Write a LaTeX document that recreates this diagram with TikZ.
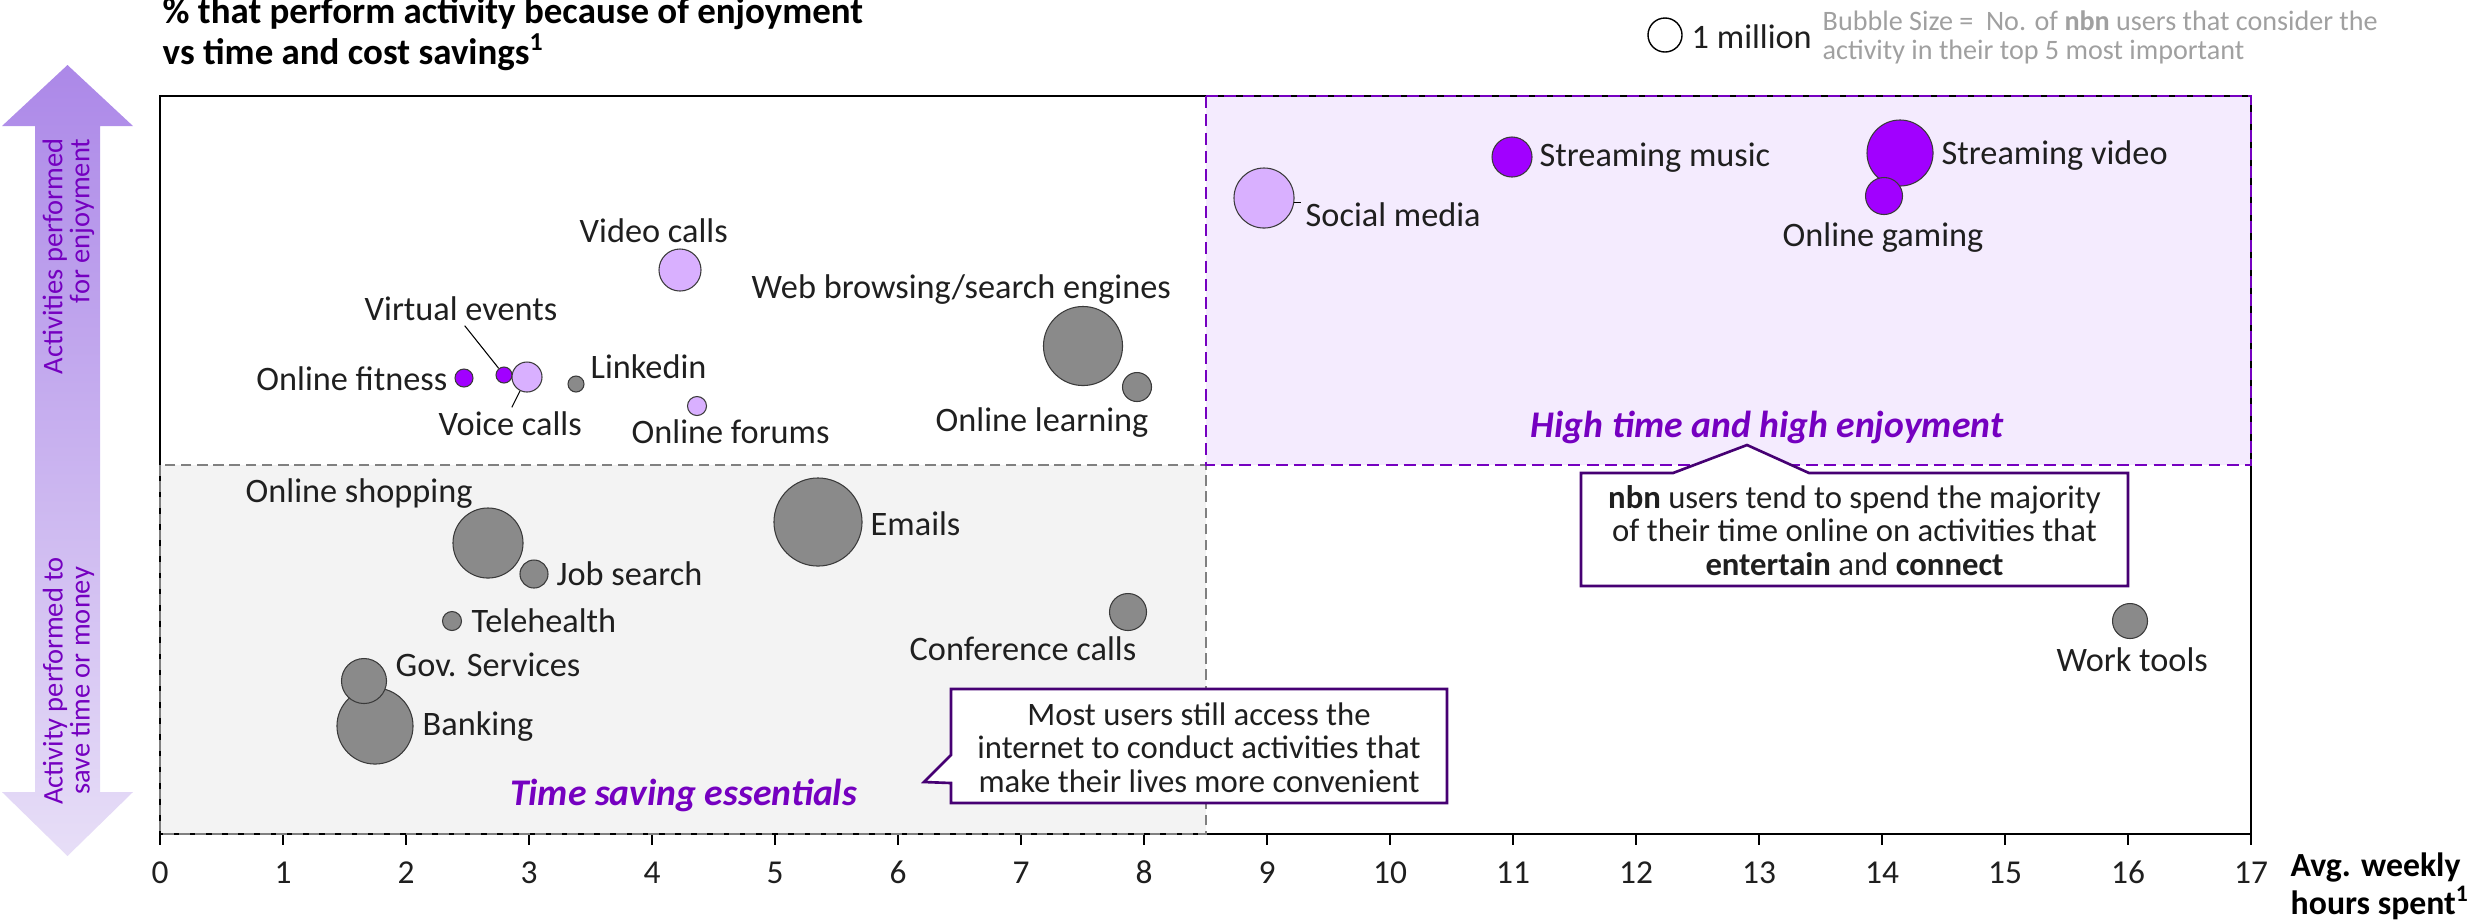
\documentclass[tikz,border=0pt]{standalone}
\usepackage{fontspec}
\setmainfont{Carlito}
\definecolor{txt}{HTML}{1F1F1F}
\definecolor{bgray}{HTML}{8A8A8A}
\definecolor{bpurple}{HTML}{A100FF}
\definecolor{blight}{HTML}{D9B0FF}
\definecolor{bubline}{HTML}{3A3A3A}
\definecolor{qgray}{HTML}{F3F3F3}
\definecolor{qpurple}{HTML}{F4EBFE}
\definecolor{dgray}{HTML}{808080}
\definecolor{dpurple}{HTML}{7500C0}
\definecolor{cpurple}{HTML}{460073}
\definecolor{leggray}{HTML}{A0A0A0}
\definecolor{arrtop}{HTML}{AC88E8}
\definecolor{arrbot}{HTML}{E7DEF7}
\begin{document}
\begin{tikzpicture}[x=0.01cm,y=-0.01cm,
  lab/.style={font=\fontsize{9.75}{11}\selectfont, inner sep=0pt, text=txt},
  bub/.style={circle, draw=bubline, line width=0.3pt, inner sep=0pt, minimum size=#1*0.02cm},
  bubG/.style={bub=#1, fill=bgray},
  bubP/.style={bub=#1, fill=bpurple},
  bubL/.style={bub=#1, fill=blight},
  ticklab/.style={font=\fontsize{9.5}{11}\selectfont, inner sep=0pt, anchor=base, text=txt},
  titlef/.style={font=\fontsize{10.5}{9.1}\selectfont\bfseries, inner sep=0pt, align=left, anchor=base west, text=black},
  axf/.style={font=\fontsize{9.6}{9.1}\selectfont\bfseries, inner sep=0pt, align=left, anchor=base west, text=black},
  legf/.style={font=\fontsize{8}{7.97}\selectfont, inner sep=0pt, align=left, anchor=base west, text=leggray},
  qlab/.style={font=\fontsize{10.7}{12}\selectfont\bfseries\itshape, inner sep=0pt, anchor=base, text=dpurple},
  callout/.style={draw=cpurple, line width=0.75pt, fill=white},
  ctext/.style={font=\fontsize{9.3}{9.45}\selectfont, inner sep=0pt, align=center, anchor=base, text=txt},
  arrf/.style={font=\fontsize{8.1}{7.7}\selectfont, inner sep=0pt, text=dpurple},
  leader/.style={draw=black, line width=0.3pt},
]
\useasboundingbox (0,0) rectangle (2479,923);

% left double arrow
\shade[top color=arrtop, bottom color=arrbot]
  (35,126) -- (2,126) -- (67.5,65) -- (133,126) -- (100,126) -- (100,792)
  -- (133,792) -- (67.5,856) -- (2,792) -- (35,792) -- cycle;
\node[arrf, rotate=90, anchor=east, align=right] (arrtxt1) at (68.5,138) {Activities performed\\for enjoyment};
\node[arrf, rotate=90, align=center] (arrtxt2) at (68.5,681) {Activity performed to\\save time or money};

% quadrants
\fill[qgray] (160,465) rectangle (1206,834);
\fill[qpurple] (1206,96) rectangle (2251,465);
\draw[line width=0.45pt] (160,834) -- (160,96) -- (2251,96) -- (2251,834);
\draw[line width=0.75pt] (160,834) -- (2251,834);
\foreach \k in {0,...,17} {
  \draw[line width=0.45pt] ({160+123*\k},834) -- ({160+123*\k},845);
  \node[ticklab] (t\k) at ({160+123*\k},883) {\k};
}
\draw[draw=dgray, line width=0.8pt, dash pattern=on 3pt off 1.6pt] (160,465) rectangle (1206,834);
\draw[draw=dpurple, line width=0.8pt, dash pattern=on 3.4pt off 1.8pt] (1206,96) rectangle (2251,465);

% titles (base anchor = baseline of last line)
\node[titlef] (title) at (162,64) {\% that perform activity because of enjoyment\\vs time and cost savings\textsuperscript{1}};
\node[axf] (axt) at (2290,914) {Avg. weekly\\hours spent\textsuperscript{1}};

% legend
\node[circle, draw=black, fill=white, line width=0.4pt, inner sep=0pt, minimum size=0.34cm] (legc) at (1665,35) {};
\node[lab, anchor=base west] (legt) at (1691,48) {1 million};
\node[legf] (leg) at (1822,59) {Bubble Size =\ \ No. of \textbf{nbn} users that consider the\\activity in their top 5 most important};

% bubbles
\node[bubL=21] (vc) at (680,270) {};
\node[bubP=8] (ve) at (504,375) {};
\node[bubL=15] (voc) at (527,377) {};
\node[bubP=9] (of) at (464,378) {};
\node[bubG=8] (li) at (576,384) {};
\node[bubL=9.5] (ofo) at (697,406) {};
\node[bubG=39.5] (web) at (1083,346) {};
\node[bubG=14.5] (ol) at (1137,387) {};
\node[bubL=30] (sm) at (1264,198) {};
\node[bubP=20] (smu) at (1512,157) {};
\node[bubP=33] (sv) at (1900,153) {};
\node[bubP=18.5] (og) at (1884,196) {};
\node[bubG=44] (em) at (818,522) {};
\node[bubG=18.5] (cc) at (1128,612) {};
\node[bubG=35] (os) at (488,543) {};
\node[bubG=14] (js) at (534,574) {};
\node[bubG=9.5] (th) at (452,621) {};
\node[bubG=38] (bk) at (375,726) {};
\node[bubG=22.5] (gs) at (364,681) {};
\node[bubG=17.5] (wt) at (2130,621) {};

% labels
\node[lab, anchor=base west] (vcl) at (579,242) {Video calls};
\node[lab, anchor=base west] (vel) at (364,320) {Virtual events};
\node[lab, anchor=base west] (vocl) at (438,435) {Voice calls};
\node[lab, anchor=base east] (ofl) at (448,390) {Online fitness};
\node[lab, anchor=base west] (lil) at (590,378) {Linkedin};
\node[lab, anchor=base west] (ofol) at (631,443) {Online forums};
\node[lab, anchor=base west] (webl) at (751,298) {Web browsing/search engines};
\node[lab, anchor=base west] (oll) at (935,431) {Online learning};
\node[lab, anchor=base west] (sml) at (1305,226) {Social media};
\node[lab, anchor=base west] (smul) at (1539,166) {Streaming music};
\node[lab, anchor=base west] (svl) at (1941,164) {Streaming video};
\node[lab, anchor=base west] (ogl) at (1782,246) {Online gaming};
\node[lab, anchor=base west] (eml) at (870,535) {Emails};
\node[lab, anchor=base west] (ccl) at (909,660) {Conference calls};
\node[lab, anchor=base west] (osl) at (245,502) {Online shopping};
\node[lab, anchor=base west] (jsl) at (556,585) {Job search};
\node[lab, anchor=base west] (thl) at (471,632) {Telehealth};
\node[lab, anchor=base west] (gsl) at (395,676) {Gov. Services};
\node[lab, anchor=base west] (bkl) at (422,735) {Banking};
\node[lab, anchor=base west] (wtl) at (2056,671) {Work tools};

% leaders
\draw[leader, shorten <=1.7pt] (vel.south) -- (ve);
\draw[leader, shorten >=1pt] (voc) -- (vocl.north);
\draw[leader] (sm.-8) -- ++(7,0);

% quadrant labels
\node[qlab] (hte) at (1767,437) {High time and high enjoyment};
\node[qlab] (tse) at (683.5,805) {Time saving essentials};

% callout 1
\draw[callout] (1581,473) -- (1673,473) -- (1747,445) -- (1809,473) -- (2128,473)
  -- (2128,586) -- (1581,586) -- cycle;
\node[ctext] (c1) at (1854.5,575) {\textbf{nbn} users tend to spend the majority\\of their time online on activities that\\\textbf{entertain} and \textbf{connect}};

% callout 2
\draw[callout] (951,689) -- (1447,689) -- (1447,803) -- (951,803) -- (951,783)
  -- (924,782) -- (951,755) -- cycle;
\node[ctext] (c2) at (1199,792) {Most users still access the\\internet to conduct activities that\\make their lives more convenient};
\end{tikzpicture}
\end{document}
